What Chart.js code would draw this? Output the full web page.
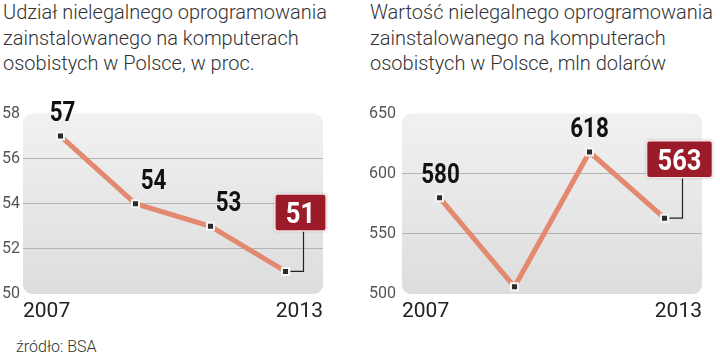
<!DOCTYPE html>
<html lang="pl">
<head>
<meta charset="utf-8">
<script src="https://cdn.jsdelivr.net/npm/chart.js@4.4.1/dist/chart.umd.min.js"></script>
<style>
  body { margin: 0; width: 720px; height: 358px; background: #fff; position: relative; overflow: hidden; font-family: Roboto, sans-serif; }
  .title { position: absolute; top: 0; font-weight: 300; font-size: 20px; line-height: 25.5px; color: #333; white-space: nowrap; }
  .box { position: absolute; top: 90px; height: 234px; }
  .source { position: absolute; left: 16px; top: 337px; font-size: 16px; font-weight: 300; color: #333; }
</style>
</head>
<body>
<div class="title" style="left:3px">Udział nielegalnego oprogramowania<br>zainstalowanego na komputerach<br>osobistych w Polsce, w proc.</div>
<div class="title" style="left:370px">Wartość nielegalnego oprogramowania<br>zainstalowanego na komputerach<br>osobistych w Polsce, mln dolarów</div>
<div class="box" style="left:0; width:345px"><canvas id="share"></canvas></div>
<div class="box" style="left:360px; width:360px"><canvas id="value"></canvas></div>
<div class="source">źródło: BSA</div>

<script>
// dane
const years = [2007, 2009, 2011, 2013];
const shareValues = [57, 54, 53, 51];     // udział, w proc.
const valueValues = [580, 506, 618, 563]; // wartość, mln USD
const xTickLabels = ['2007', '2013'];
const shareTicks = [50, 52, 54, 56, 58];
const valueTicks = [500, 550, 600, 650];

// tekst "zwężony" (brak fontu condensed)
function narrowText(ctx, text, x, y, size, color, squeeze) {
  ctx.save();
  ctx.font = '700 ' + size + 'px Roboto';
  ctx.fillStyle = color;
  ctx.textAlign = 'center';
  ctx.textBaseline = 'alphabetic';
  ctx.translate(x, y);
  ctx.scale(squeeze, 1);
  ctx.fillText(text, 0, 0);
  ctx.restore();
}

const decor = {
  id: 'decor',
  beforeDraw(chart) {
    const { ctx, chartArea: a } = chart;
    const g = ctx.createLinearGradient(0, a.top, 0, a.bottom);
    g.addColorStop(0, '#f1f1f1');
    g.addColorStop(1, '#dddddd');
    ctx.save();
    ctx.fillStyle = g;
    ctx.beginPath();
    ctx.roundRect(a.left, a.top, a.width, a.height, 9);
    ctx.fill();
    ctx.restore();
  },
  afterDatasetsDraw(chart, args, opts) {
    const ctx = chart.ctx;
    const pts = chart.getDatasetMeta(0).data;
    const vals = chart.data.datasets[0].data;

    // etykiety nad punktami
    opts.labelled.forEach((i, k) => {
      const p = pts[i];
      narrowText(ctx, String(vals[i].y), p.x + opts.dx[k], p.y - 15, 28, '#111', 0.8);
    });

    // wyróżniona ostatnia wartość
    const last = pts.length - 1;
    const p = pts[last];
    const txt = String(vals[last].y);
    ctx.save();
    ctx.font = '700 30px Roboto';
    const w = ctx.measureText(txt).width * 0.85 + 22;
    const h = 37;
    const cx = p.x + 15, cy = p.y - 59;

    ctx.strokeStyle = '#222';
    ctx.lineWidth = 1.2;
    ctx.beginPath();
    ctx.moveTo(p.x + 18, cy + h / 2);
    ctx.lineTo(p.x + 18, p.y);
    ctx.lineTo(p.x + 5, p.y);
    ctx.stroke();

    ctx.shadowColor = 'rgba(0,0,0,0.35)';
    ctx.shadowBlur = 3;
    ctx.fillStyle = '#9c1b2b';
    ctx.beginPath();
    ctx.roundRect(cx - w / 2, cy - h / 2, w, h, 3);
    ctx.fill();
    ctx.shadowColor = 'transparent';
    ctx.strokeStyle = '#f4e4e4';
    ctx.lineWidth = 1.5;
    ctx.stroke();
    ctx.restore();
    narrowText(ctx, txt, cx, cy + 10.5, 30, '#fff', 0.85);
  }
};

function makeChart(id, values, ticks, yWidth, yPad, padRight, labelled, dx) {
  const ctx = document.getElementById(id).getContext('2d');
  return new Chart(ctx, {
    type: 'line',
    data: {
      datasets: [{
        data: years.map((y, i) => ({ x: y, y: values[i] })),
        borderColor: '#e2896f',
        borderWidth: 5,
        tension: 0,
        clip: false,
        pointStyle: 'rect',
        pointRadius: 5,
        pointBorderWidth: 2,
        pointBackgroundColor: '#2a2a2a',
        pointBorderColor: '#f6f6f6',
      }],
    },
    options: {
      responsive: true,
      maintainAspectRatio: false,
      animation: false,
      layout: { padding: { top: 23.5, right: padRight, bottom: 0, left: 0 } },
      plugins: {
        legend: { display: false },
        tooltip: { enabled: false },
        decor: { labelled: labelled, dx: dx },
      },
      scales: {
        x: {
          type: 'linear',
          min: years[0] - 1,
          max: years[years.length - 1] + 1,
          afterBuildTicks: (s) => { s.ticks = [{ value: s.min }, { value: s.max }]; },
          afterFit: (s) => { s.height = 30; },
          ticks: {
            autoSkip: false,
            maxRotation: 0,
            align: 'inner',
            padding: 5,
            color: '#222',
            font: { family: 'Roboto', size: 21 },
            callback: (v, i) => xTickLabels[i],
          },
          grid: { display: false, drawTicks: false },
          border: { display: false },
        },
        y: {
          min: ticks[0],
          max: ticks[ticks.length - 1],
          afterBuildTicks: (s) => { s.ticks = ticks.map((v) => ({ value: v })); },
          afterFit: (s) => { s.width = yWidth; },
          ticks: {
            padding: yPad,
            color: '#555',
            font: { family: 'Roboto', size: 16 },
          },
          grid: {
            drawTicks: false,
            color: (c) => (c.tick.value === ticks[0] || c.tick.value === ticks[ticks.length - 1]) ? 'transparent' : '#b4b4b4',
          },
          border: { display: false },
        },
      },
    },
    plugins: [decor],
  });
}

makeChart('share', shareValues, shareTicks, 23, 3, 22, [0, 1, 2], [2, 18, 18]);
makeChart('value', valueValues, valueTicks, 42, 6, 18, [0, 2], [1, 0]);
</script>
</body>
</html>
